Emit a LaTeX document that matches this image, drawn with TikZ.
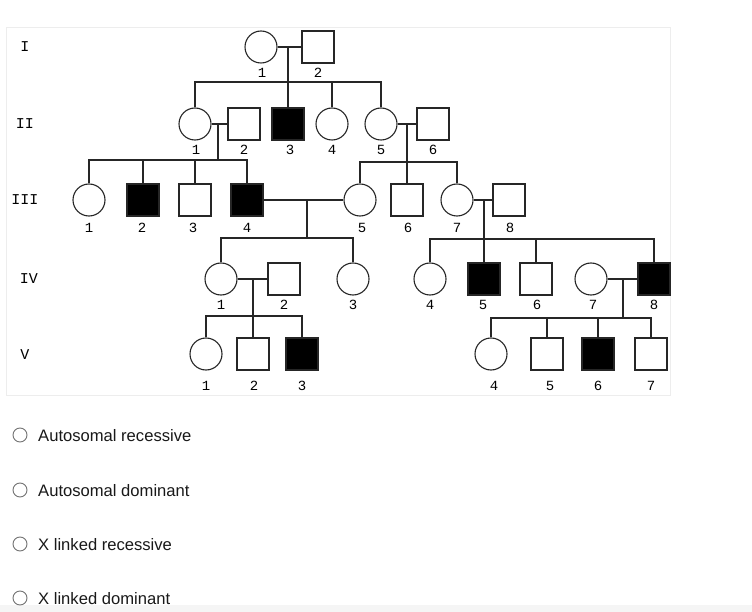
\documentclass[tikz,border=0pt]{standalone}
\usepackage{fontspec}
\setmainfont{Liberation Sans}
\setmonofont{Liberation Mono}
\begin{document}
\begin{tikzpicture}[x=1pt,y=-1pt,
  ped/.style={draw=black!85,line width=1.1pt,inner sep=0pt,minimum size=32pt,fill=white},
  fem/.style={ped,circle},
  mal/.style={ped,rectangle},
  aff/.style={fill=black},
  num/.style={font=\fontsize{14}{14}\selectfont\ttfamily,inner sep=0pt,text=black},
  gen/.style={font=\fontsize{15}{15}\selectfont\ttfamily,inner sep=0pt,text=black},
  opt/.style={font=\fontsize{16.6}{16.6}\selectfont,inner sep=0pt,anchor=west,text=black!90},
  radio/.style={circle,draw=black!55,line width=0.9pt,minimum size=14pt,inner sep=0pt},
  link/.style={draw=black!85,line width=1.1pt}]
\useasboundingbox (0,0) rectangle (752,612);
\fill[white] (0,0) rectangle (752,612);
\draw[draw=black!7,line width=1pt] (6,28) rectangle (670,395) ;
\fill[black!4] (0,605) rectangle (752,612);
% generation labels
\node[gen] (gI) at (25,47) {I};
\node[gen] (gII) at (25,124) {II};
\node[gen] (gIII) at (25,200) {III};
\node[gen] (gIV) at (29,279) {IV};
\node[gen] (gV) at (25,355) {V};
% coordinates for marriages and sibships
\coordinate (mI) at (288,47);   \coordinate (sI) at (288,82);
\coordinate (mII) at (218,124); \coordinate (sII) at (218,160);
\coordinate (mIIb) at (407,124); \coordinate (sIIb) at (407,162);
\coordinate (mIII) at (307,200); \coordinate (sIII) at (307,238);
\coordinate (mIIIb) at (484,200); \coordinate (sIIIb) at (484,239);
\coordinate (mIV) at (253,279); \coordinate (sIV) at (253,316);
\coordinate (mIVb) at (623,279); \coordinate (sIVb) at (623,318);
% individuals
\node[fem] (I1) at (261,47) {};
\node[mal] (I2) at (318,47) {};
\node[fem] (II1) at (195,124) {};
\node[mal] (II2) at (244,124) {};
\node[mal,aff] (II3) at (288,124) {};
\node[fem] (II4) at (332,124) {};
\node[fem] (II5) at (381,124) {};
\node[mal] (II6) at (433,124) {};
\node[fem] (III1) at (89,200) {};
\node[mal,aff] (III2) at (143,200) {};
\node[mal] (III3) at (195,200) {};
\node[mal,aff] (III4) at (247,200) {};
\node[fem] (III5) at (360,200) {};
\node[mal] (III6) at (407,200) {};
\node[fem] (III7) at (457,200) {};
\node[mal] (III8) at (509,200) {};
\node[fem] (IV1) at (221,279) {};
\node[mal] (IV2) at (284,279) {};
\node[fem] (IV3) at (353,279) {};
\node[fem] (IV4) at (430,279) {};
\node[mal,aff] (IV5) at (484,279) {};
\node[mal] (IV6) at (536,279) {};
\node[fem] (IV7) at (591,279) {};
\node[mal,aff] (IV8) at (654,279) {};
\node[fem] (V1) at (206,354) {};
\node[mal] (V2) at (253,354) {};
\node[mal,aff] (V3) at (302,354) {};
\node[fem] (V4) at (491,354) {};
\node[mal] (V5) at (547,354) {};
\node[mal,aff] (V6) at (598,354) {};
\node[mal] (V7) at (651,354) {};
% connectors
\draw[link] (I1.east) -- (I2.west);
\draw[link] (mI) -- (sI);
\draw[link] (II1.north) |- (sI);
\draw[link] (II3.north) -- (sI);
\draw[link] (II4.north) |- (sI);
\draw[link] (II5.north) |- (sI);
\draw[link] (II1.east) -- (II2.west);
\draw[link] (mII) -- (sII);
\draw[link] (III1.north) |- (sII);
\draw[link] (III2.north) |- (sII);
\draw[link] (III3.north) |- (sII);
\draw[link] (III4.north) |- (sII);
\draw[link] (II5.east) -- (II6.west);
\draw[link] (mIIb) -- (sIIb);
\draw[link] (III5.north) |- (sIIb);
\draw[link] (III6.north) -- (sIIb);
\draw[link] (III7.north) |- (sIIb);
\draw[link] (III4.east) -- (III5.west);
\draw[link] (mIII) -- (sIII);
\draw[link] (IV1.north) |- (sIII);
\draw[link] (IV3.north) |- (sIII);
\draw[link] (III7.east) -- (III8.west);
\draw[link] (mIIIb) -- (sIIIb);
\draw[link] (IV4.north) |- (sIIIb);
\draw[link] (IV5.north) -- (sIIIb);
\draw[link] (IV6.north) |- (sIIIb);
\draw[link] (IV8.north) |- (sIIIb);
\draw[link] (IV1.east) -- (IV2.west);
\draw[link] (mIV) -- (sIV);
\draw[link] (V1.north) |- (sIV);
\draw[link] (V2.north) -- (sIV);
\draw[link] (V3.north) |- (sIV);
\draw[link] (IV7.east) -- (IV8.west);
\draw[link] (mIVb) -- (sIVb);
\draw[link] (V4.north) |- (sIVb);
\draw[link] (V5.north) |- (sIVb);
\draw[link] (V6.north) |- (sIVb);
\draw[link] (V7.north) |- (sIVb);
% numbers
\node[num] (nI1) at (262,73) {1};
\node[num] (nI2) at (318,73) {2};
\node[num] (nII1) at (196,150) {1};
\node[num] (nII2) at (244,150) {2};
\node[num] (nII3) at (290,150) {3};
\node[num] (nII4) at (332,150) {4};
\node[num] (nII5) at (381,150) {5};
\node[num] (nII6) at (433,150) {6};
\node[num] (nIII1) at (89,228) {1};
\node[num] (nIII2) at (142,228) {2};
\node[num] (nIII3) at (193,228) {3};
\node[num] (nIII4) at (247,228) {4};
\node[num] (nIII5) at (362,228) {5};
\node[num] (nIII6) at (408,228) {6};
\node[num] (nIII7) at (457,228) {7};
\node[num] (nIII8) at (510,228) {8};
\node[num] (nIV1) at (221,305) {1};
\node[num] (nIV2) at (284,305) {2};
\node[num] (nIV3) at (353,305) {3};
\node[num] (nIV4) at (430,305) {4};
\node[num] (nIV5) at (483,305) {5};
\node[num] (nIV6) at (537,305) {6};
\node[num] (nIV7) at (593,305) {7};
\node[num] (nIV8) at (654,305) {8};
\node[num] (nV1) at (206,386) {1};
\node[num] (nV2) at (254,386) {2};
\node[num] (nV3) at (302,386) {3};
\node[num] (nV4) at (494,386) {4};
\node[num] (nV5) at (550,386) {5};
\node[num] (nV6) at (598,386) {6};
\node[num] (nV7) at (651,386) {7};
% answer options
\node[radio] (r1) at (20,435) {};
\node[radio] (r2) at (20,490) {};
\node[radio] (r3) at (20,544) {};
\node[radio] (r4) at (20,598) {};
\node[opt] (o1) at (38,436) {Autosomal recessive};
\node[opt] (o2) at (38,491) {Autosomal dominant};
\node[opt] (o3) at (38,545) {X linked recessive};
\node[opt] (o4) at (38,599) {X linked dominant};
\end{tikzpicture}
\end{document}
